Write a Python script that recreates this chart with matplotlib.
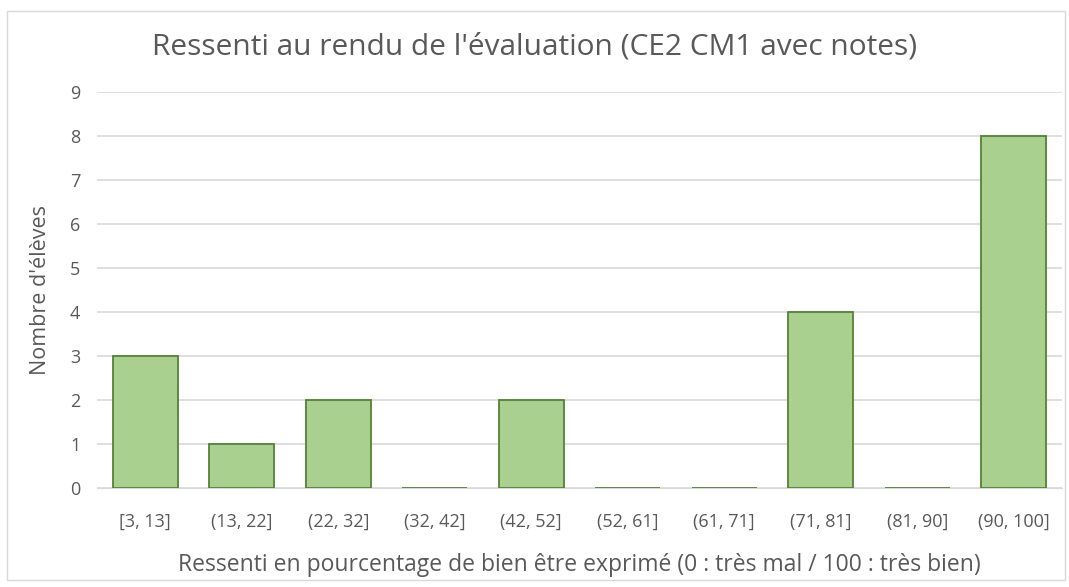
import numpy as np
import matplotlib.pyplot as plt
from matplotlib.patches import Rectangle

categories = ["[3, 13]", "(13, 22]", "(22, 32]", "(32, 42]", "(42, 52]",
              "(52, 61]", "(61, 71]", "(71, 81]", "(81, 90]", "(90, 100]"]
counts = [3, 1, 2, 0, 2, 0, 0, 4, 0, 8]
yticks = list(range(0, 10))

plt.rcParams['font.family'] = ['Open Sans', 'DejaVu Sans']
txt = '#595959'

fig = plt.figure(figsize=(10.69, 5.87), dpi=100)
# outer chart border
fig.patches.append(Rectangle((7/1069, 7/587), 1058/1069, 569/587, transform=fig.transFigure,
                             fill=False, edgecolor='#d9d9d9', linewidth=1))
ax = fig.add_axes([97/1069, 1-488/587, 965/1069, 396/587])

x = np.arange(len(categories))
ax.bar(x, counts, width=0.67, color='#a9d08e', edgecolor='#548235', linewidth=1.3, zorder=3)

ax.set_xlim(-0.5, len(categories) - 0.5)
ax.set_ylim(0, 9)
ax.set_yticks(yticks)
ax.set_xticks(x)
ax.set_xticklabels(categories)
ax.grid(axis='y', color='#d9d9d9', linewidth=1.2, zorder=0)
for s in ['top', 'right', 'left']:
    ax.spines[s].set_visible(False)
ax.spines['bottom'].set_color('#d9d9d9')
ax.tick_params(length=0, labelsize=13, colors=txt, pad=18)
ax.tick_params(axis='y', pad=12)

ax.set_xlabel("Ressenti en pourcentage de bien être exprimé (0 : très mal / 100 : très bien)",
              fontsize=16.5, color=txt, labelpad=16)
ax.set_ylabel("Nombre d'élèves", fontsize=15.5, color=txt, labelpad=14)
fig.text(0.5, 1-47/587, "Ressenti au rendu de l'évaluation (CE2 CM1 avec notes)",
         ha='center', va='center', fontsize=21.5, color=txt)

plt.savefig('out.png', dpi=100)
